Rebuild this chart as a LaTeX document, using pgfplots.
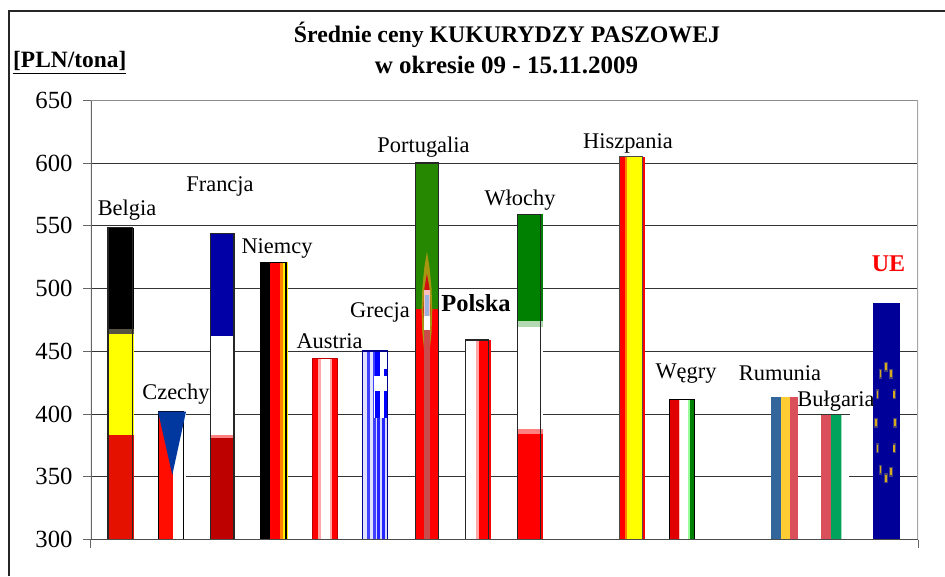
\documentclass[border=0pt]{standalone}
\usepackage{fontspec}
\setmainfont{Liberation Serif}
\usepackage{pgfplots}
\pgfplotsset{compat=1.18}
\pgfplotsset{
  st/.style n args={4}{ybar, draw=none, fill=#4,
    bar width={(#3-#2)/51.07},
    bar shift={((#2+#3)/2-120.5-51.07*#1)/51.07}},
  ol/.style n args={4}{ybar, draw=#4, line width=1.2pt, fill=none,
    bar width={(#3-#2)/51.07},
    bar shift={((#2+#3)/2-120.5-51.07*#1)/51.07}},
}
\newcommand{\lab}[3]{\node[anchor=base,inner sep=0pt] at (#1pt,{576pt-#2pt}) {\fontsize{22.4}{24}\selectfont #3};}
\definecolor{fy}{rgb}{1,1,0}
\begin{document}
\begin{tikzpicture}[x=1pt,y=1pt]
\path[use as bounding box] (0,0) rectangle (945,576);
\begin{axis}[
  at={(91pt,36.5pt)}, anchor=south west,
  scale only axis, width=827pt, height=439.2pt,
  xmin=-0.578, xmax=15.616, ymin=300, ymax=650,
  xtick={-0.578,15.616}, xticklabels={,},
  ytick={300,350,...,650},
  xtick pos=bottom, ytick pos=left,
  ymajorgrids, grid style={draw=black!80, line width=0.9pt},
  tick style={draw=black!60, line width=1pt},
  tick align=outside,
  major tick length=8pt,
  axis line style={draw=none},
  every y tick label/.style={font=\fontsize{24.7}{26}\selectfont},
  yticklabel style={/pgf/number format/assume math mode=true, /pgf/number format/fixed, xshift=-7pt},
  tick label style={/pgf/number format/assume math mode=true},
]
% Belgia
\addplot[st={0}{107.3}{134}{black}] coordinates {(0,548.5)};
\addplot[st={0}{107.3}{134}{black!60!yellow!60!black}] coordinates {(0,467.5)};
\addplot[st={0}{107.3}{134}{fy}] coordinates {(0,463.5)};
\addplot[st={0}{107.3}{134}{red!85!orange!90!black}] coordinates {(0,383.5)};
\addplot[ol={0}{108}{132.7}{black!85}] coordinates {(0,548.5)};
% Czechy
\addplot[st={1}{158}{186}{white}] coordinates {(1,402)};
\addplot[st={1}{158}{172.7}{red!90!orange}] coordinates {(1,402)};
\addplot[ol={1}{158.4}{183.7}{black}] coordinates {(1,402)};
\addplot[fill={rgb,255:red,0;green,56;blue,160}, draw=none] coordinates {(0.734,402)(1.283,402)(1.014,351.5)} -- cycle;
% Francja
\addplot[st={2}{210}{234.7}{blue!65!black}] coordinates {(2,544)};
\addplot[st={2}{210}{234.7}{white}] coordinates {(2,462)};
\addplot[st={2}{210}{234.7}{red!50!white}] coordinates {(2,383)};
\addplot[st={2}{210}{234.7}{red!74!black}] coordinates {(2,381)};
\addplot[ol={2}{210.4}{234}{black!85}] coordinates {(2,544)};
% Niemcy
\addplot[st={3}{260}{269.7}{black}] coordinates {(3,521)};
\addplot[st={3}{269.7}{280}{red}] coordinates {(3,521)};
\addplot[st={3}{280}{283}{orange}] coordinates {(3,521)};
\addplot[st={3}{283}{287.7}{fy!85!orange}] coordinates {(3,521)};
\addplot[ol={3}{261}{286}{black}] coordinates {(3,521)};
% Austria
\addplot[st={4}{312.3}{337.7}{red}] coordinates {(4,444.5)};
\addplot[st={4}{318}{332}{red!35!white}] coordinates {(4,444.5)};
\addplot[st={4}{320.5}{329.5}{white}] coordinates {(4,444.5)};
\addplot[ol={4}{312.8}{337.2}{red!75!black}] coordinates {(4,444.5)};
% Grecja
\addplot[st={5}{362.3}{387.7}{blue!12!white}] coordinates {(5,450.2)};
\addplot[st={5}{367.2}{370.3}{blue!75!white}] coordinates {(5,450.2)};
\addplot[st={5}{373.3}{376}{blue!75!white}] coordinates {(5,450.2)};
\addplot[st={5}{380}{387.7}{white}] coordinates {(5,450.2)};
\addplot[st={5}{374.5}{380}{blue}] coordinates {(5,450.2)};
\addplot[st={5}{383.7}{386.7}{blue}] coordinates {(5,436)};
\addplot[st={5}{374.3}{387}{white}] coordinates {(5,430)};
\addplot[st={5}{374.5}{380}{blue}] coordinates {(5,418)};
\addplot[st={5}{383.7}{386.7}{blue}] coordinates {(5,418)};
\addplot[st={5}{373.3}{387}{blue!15!white}] coordinates {(5,397)};
\addplot[st={5}{373.3}{376}{blue!75!white}] coordinates {(5,397)};
\addplot[st={5}{376.7}{380}{blue!85!white}] coordinates {(5,397)};
\addplot[st={5}{382.3}{384.7}{blue!85!white}] coordinates {(5,397)};
\addplot[ol={5}{362.8}{387.2}{blue!55!black}] coordinates {(5,450.2)};
% Portugalia
\addplot[st={6}{414.7}{439.3}{green!45!black!85!yellow}] coordinates {(6,600)};
\addplot[st={6}{414.7}{439.3}{red}] coordinates {(6,483.8)};
\addplot[ol={6}{415.2}{438.8}{black!85}] coordinates {(6,600)};
\addplot[fill={rgb,255:red,168;green,150;blue,16}, draw=none] coordinates {(6,529.4)(6.05,517)(6.09,500)(6.105,483)(6.09,465)(6.05,449)(6,436.4)(5.95,449)(5.91,465)(5.895,483)(5.91,500)(5.95,517)} -- cycle;
\addplot[fill={rgb,255:red,208;green,16;blue,16}, draw=none] coordinates {(6,512)(6.05,500)(6.07,483)(6.05,466)(6,454)(5.95,466)(5.93,483)(5.95,500)} -- cycle;
\addplot[st={6}{424}{430}{red!25!white}] coordinates {(6,499)};
\addplot[st={6}{425.3}{428.7}{cyan!45!blue!40!white}] coordinates {(6,495)};
\addplot[st={6}{424}{430}{white}] coordinates {(6,478)};
\addplot[st={6}{424}{430}{red!70!black!70!white}] coordinates {(6,467)};
% Polska
\addplot[st={7}{465}{476}{white}] coordinates {(7,459)};
\addplot[st={7}{476}{479.3}{red!35!white}] coordinates {(7,459)};
\addplot[st={7}{479.3}{491}{red}] coordinates {(7,459)};
\addplot[ol={7}{465.4}{488.7}{black!85}] coordinates {(7,459)};
% Wlochy
\addplot[st={8}{516.7}{543}{green!50!black}] coordinates {(8,559.3)};
\addplot[st={8}{516.7}{543}{green!50!black!30!white}] coordinates {(8,474)};
\addplot[st={8}{516.7}{543}{white}] coordinates {(8,469.6)};
\addplot[st={8}{516.7}{543}{red!50!white}] coordinates {(8,388)};
\addplot[st={8}{516.7}{543}{red}] coordinates {(8,384)};
\addplot[ol={8}{517.1}{540.7}{black!85}] coordinates {(8,559.3)};
% Hiszpania
\addplot[st={10}{619}{645}{red}] coordinates {(10,605)};
\addplot[st={10}{625}{626.8}{orange}] coordinates {(10,605)};
\addplot[st={10}{626.8}{641.7}{fy}] coordinates {(10,605)};
\addplot[ol={10}{619.4}{642.7}{black!70}] coordinates {(10,605)};
% Wegry
\addplot[st={11}{669.3}{678.7}{red!88!black}] coordinates {(11,411.7)};
\addplot[st={11}{678.7}{680}{red!25!white}] coordinates {(11,411.7)};
\addplot[st={11}{680}{688}{white}] coordinates {(11,411.7)};
\addplot[st={11}{688}{689.5}{green!40!white}] coordinates {(11,411.7)};
\addplot[st={11}{689.5}{695}{green!50!black}] coordinates {(11,411.7)};
\addplot[ol={11}{669.8}{694.3}{black}] coordinates {(11,411.7)};
% Rumunia
\addplot[st={13}{771}{781.3}{{rgb,255:red,51;green,102;blue,154}}] coordinates {(13,413.6)};
\addplot[st={13}{781.3}{789.7}{{rgb,255:red,255;green,204;blue,51}}] coordinates {(13,413.6)};
\addplot[st={13}{789.7}{798}{{rgb,255:red,217;green,80;blue,90}}] coordinates {(13,413.6)};
% Bulgaria
\addplot[st={14}{821}{831}{{rgb,255:red,217;green,80;blue,90}}] coordinates {(14,399.3)};
\addplot[st={14}{831}{841}{{rgb,255:red,0;green,163;blue,92}}] coordinates {(14,399.3)};
\addplot[st={14}{841}{842}{{rgb,255:red,160;green,220;blue,190}}] coordinates {(14,399.3)};
\addplot[st={14}{842}{849}{white}] coordinates {(14,399.3)};
% UE
\addplot[st={15}{873}{900}{{rgb,255:red,0;green,0;blue,153}}] coordinates {(15,488.5)};
\addplot[only marks, mark=|, mark size=5pt, mark options={draw={rgb,255:red,70;green,65;blue,125}, line width=3.2pt}] coordinates {(14.99,437.7)(14.885,431.9)(15.086,431.9)(14.826,415.7)(15.151,415.7)(14.792,393)(15.164,393)(14.826,372.7)(15.151,372.7)(14.885,355.4)(15.086,354)(14.99,348.8)};
\addplot[only marks, mark=|, mark size=3.5pt, mark options={draw={rgb,255:red,215;green,170;blue,30}, line width=1.6pt}] coordinates {(14.99,437.7)(14.885,431.9)(15.086,431.9)(14.826,415.7)(15.151,415.7)(14.792,393)(15.164,393)(14.826,372.7)(15.151,372.7)(14.885,355.4)(15.086,354)(14.99,348.8)};
% axis lines
\draw[black!60, line width=1.3pt] (rel axis cs:0,0) -- (rel axis cs:0,1);
\draw[black!45, line width=1.2pt] (rel axis cs:0,1) -- (rel axis cs:1,1);
\draw[black!35, line width=1.6pt] (rel axis cs:1,1) -- (rel axis cs:1,0);
\draw[black!70, line width=1.1pt] (rel axis cs:0,0) -- (rel axis cs:1,0);
\end{axis}
% frame (runs past the edge of the picture on the right and at the bottom)
\draw[black!85, line width=1.2pt] (9,0) -- (9,565) -- (945,565);
% titles
\node[anchor=base,inner sep=0pt] at (507,533.3) {\fontsize{23.8}{26}\selectfont\bfseries Średnie ceny KUKURYDZY PASZOWEJ};
\node[anchor=base,inner sep=0pt] at (506.5,502.7) {\fontsize{25}{26}\selectfont\bfseries w okresie 09 - 15.11.2009};
\node[anchor=base west,inner sep=0pt] at (13,508) {\fontsize{23.4}{26}\selectfont\bfseries [PLN/tona]};
\draw[black, line width=1.2pt] (12.5,502.5) -- (126,502.5);
% white box behind the label Bulgaria
\fill[white] (849.5,160.5) rectangle (872.5,181);
% bar labels
\lab{127}{216}{Belgia}
\lab{220}{192}{Francja}
\lab{277}{254}{Niemcy}
\lab{423.5}{153}{Portugalia}
\lab{628}{149}{Hiszpania}
\lab{520}{206}{Włochy}
\lab{476}{312}{\fontsize{24.5}{26}\selectfont\textbf{Polska}}
\lab{380}{317.7}{Grecja}
\lab{329.5}{349}{Austria}
\lab{176}{400}{Czechy}
\lab{686}{379}{Węgry}
\lab{780}{381}{Rumunia}
\lab{836}{406.7}{Bułgaria}
\lab{888.5}{272}{\fontsize{24}{26}\selectfont\textbf{\textcolor{red}{UE}}}
\end{tikzpicture}
\end{document}
